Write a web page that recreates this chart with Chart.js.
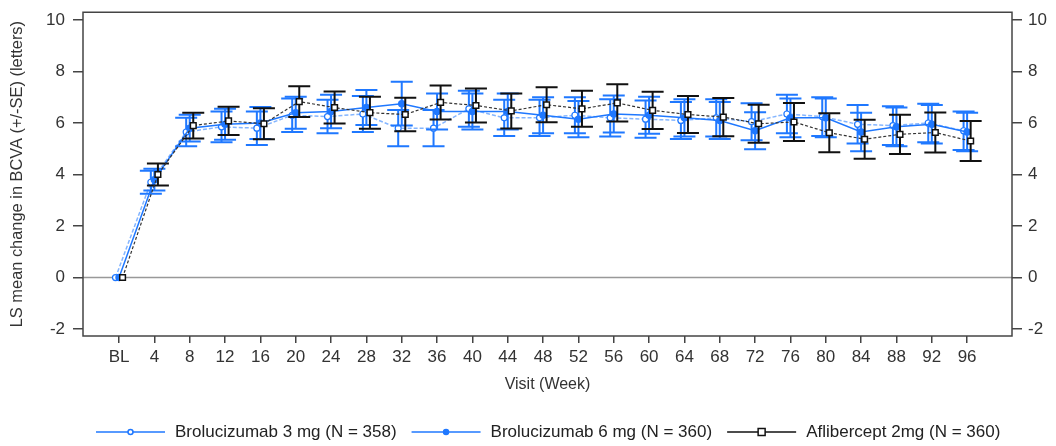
<!DOCTYPE html>
<html>
<head>
<meta charset="utf-8">
<script src="https://cdn.jsdelivr.net/npm/chart.js@4"></script>
<style>
body { margin: 0; background: #fff; }
#wrap { width: 1056px; height: 446px; }
</style>
</head>
<body>
<div id="wrap"><canvas id="ItemA"></canvas></div>
<script>
var weeks = ["BL", "4", "8", "12", "16", "20", "24", "28", "32", "36", "40", "44", "48",
             "52", "56", "60", "64", "68", "72", "76", "80", "84", "88", "92", "96"];
var yTicks = [-2, 0, 2, 4, 6, 8, 10];

var bro3Mean = [0, 3.7, 5.65, 5.85, 5.8, 6.3, 6.25, 6.35, 5.8, 5.8, 6.55, 6.2, 6.2,
                6.3, 6.2, 6.15, 6.1, 6.2, 6.05, 6.35, 6.25, 5.95, 5.9, 6.0, 5.7];
var bro3SE = [0, 0.45, 0.55, 0.6, 0.65, 0.65, 0.65, 0.7, 0.7, 0.7, 0.7, 0.7, 0.7,
              0.7, 0.72, 0.72, 0.72, 0.72, 0.72, 0.75, 0.75, 0.75, 0.75, 0.75, 0.75];
var bro6Mean = [0, 3.8, 5.8, 5.95, 6.0, 6.4, 6.45, 6.6, 6.75, 6.45, 6.45, 6.45, 6.3,
                6.15, 6.35, 6.3, 6.2, 6.1, 5.7, 6.2, 6.2, 5.65, 5.85, 5.95, 5.65];
var bro6SE = [0, 0.42, 0.52, 0.6, 0.62, 0.62, 0.65, 0.68, 0.85, 0.7, 0.7, 0.7, 0.7,
              0.7, 0.72, 0.72, 0.72, 0.72, 0.72, 0.75, 0.75, 0.75, 0.75, 0.75, 0.75];
var aflMean = [0, 4.0, 5.9, 6.08, 5.97, 6.83, 6.6, 6.4, 6.33, 6.8, 6.68, 6.47, 6.71,
               6.55, 6.78, 6.49, 6.33, 6.23, 5.97, 6.04, 5.62, 5.37, 5.56, 5.63, 5.3];
var aflSE = [0, 0.43, 0.5, 0.55, 0.6, 0.6, 0.62, 0.62, 0.65, 0.66, 0.66, 0.68, 0.68,
             0.7, 0.72, 0.72, 0.72, 0.74, 0.74, 0.74, 0.76, 0.76, 0.76, 0.78, 0.78];

var BLUE = '#1f78ff';
var FONT = "'Liberation Sans', Arial, sans-serif";

function pts(vals, shift) {
    return vals.map(function (v, i) { return {x: i + shift, y: v}; });
}

var aflGraph = {
    label: 'Aflibercept 2mg (N = 360)',
    data: pts(aflMean, 0.1),
    se: aflSE,
    borderColor: '#333',
    borderWidth: 1.2,
    borderDash: [3, 2],
    pointStyle: 'rect',
    pointRadius: 4,
    pointBorderWidth: 1.5,
    pointBorderColor: '#111',
    pointBackgroundColor: '#fff',
    barColor: '#111'
};
var bro6Graph = {
    label: 'Brolucizumab 6 mg (N = 360)',
    data: pts(bro6Mean, 0),
    se: bro6SE,
    borderColor: BLUE,
    borderWidth: 1.5,
    pointStyle: 'circle',
    pointRadius: 3,
    pointBorderColor: BLUE,
    pointBackgroundColor: BLUE,
    barColor: BLUE
};
var bro3Graph = {
    label: 'Brolucizumab 3 mg (N = 358)',
    data: pts(bro3Mean, -0.1),
    se: bro3SE,
    borderColor: 'rgba(31,120,255,0.55)',
    borderWidth: 1.5,
    borderDash: [4, 2],
    pointStyle: 'circle',
    pointRadius: 3,
    pointBorderWidth: 1.2,
    pointBorderColor: BLUE,
    pointBackgroundColor: '#fff',
    barColor: BLUE
};

// error bars drawn just before each dataset's line
var errorBars = {
    id: 'errorBars',
    beforeDatasetDraw: function (chart, args) {
        var ds = chart.data.datasets[args.index];
        var meta = args.meta;
        var ys = chart.scales.y;
        var ctx = chart.ctx;
        ctx.save();
        ctx.strokeStyle = ds.barColor;
        ctx.lineWidth = 2;
        meta.data.forEach(function (p, i) {
            var se = ds.se[i];
            if (!se) return;
            var v = ds.data[i].y;
            var top = ys.getPixelForValue(v + se);
            var bot = ys.getPixelForValue(v - se);
            ctx.beginPath();
            ctx.moveTo(p.x, top); ctx.lineTo(p.x, bot);
            ctx.moveTo(p.x - 11, top); ctx.lineTo(p.x + 11, top);
            ctx.moveTo(p.x - 11, bot); ctx.lineTo(p.x + 11, bot);
            ctx.stroke();
        });
        ctx.restore();
    }
};

var frame = {
    id: 'frame',
    beforeDatasetsDraw: function (chart) {
        var a = chart.chartArea, ctx = chart.ctx;
        var y0 = chart.scales.y.getPixelForValue(0);
        ctx.save();
        ctx.strokeStyle = '#999';
        ctx.lineWidth = 1.5;
        ctx.beginPath(); ctx.moveTo(a.left, y0); ctx.lineTo(a.right, y0); ctx.stroke();
        ctx.strokeStyle = '#444';
        ctx.lineWidth = 1.5;
        ctx.strokeRect(a.left, a.top, a.right - a.left, a.bottom - a.top);
        ctx.restore();
    }
};

var legendBox = {
    id: 'legendBox',
    afterDraw: function (chart) {
        var ctx = chart.ctx;
        var items = [bro3Graph, bro6Graph, aflGraph];
        var x = 96, y = 432;
        ctx.save();
        ctx.font = '17px ' + FONT;
        ctx.textBaseline = 'middle';
        items.forEach(function (d) {
            var lineCol = d === aflGraph ? '#111' : BLUE;
            ctx.strokeStyle = lineCol;
            ctx.lineWidth = 1.5;
            ctx.beginPath(); ctx.moveTo(x, y); ctx.lineTo(x + 69, y); ctx.stroke();
            var cx = x + 34.5;
            ctx.fillStyle = d.pointBackgroundColor;
            ctx.strokeStyle = d.pointBorderColor;
            ctx.beginPath();
            if (d.pointStyle === 'rect') { ctx.rect(cx - 3.5, y - 3.5, 7, 7); }
            else { ctx.arc(cx, y, 2.5, 0, Math.PI * 2); }
            ctx.fill(); ctx.stroke();
            ctx.fillStyle = '#222';
            ctx.fillText(d.label, x + 79, y);
            x += 79 + ctx.measureText(d.label).width + 15;
        });
        ctx.restore();
    }
};

function yAxis(pos, w, pad) {
    return {
        type: 'linear',
        position: pos,
        min: -2.27,
        max: 10.3,
        afterBuildTicks: function (s) { s.ticks = yTicks.map(function (v) { return {value: v}; }); },
        afterFit: function (s) { s.width = w; },
        grid: { drawOnChartArea: false, drawTicks: true, tickLength: 10, color: '#444', lineWidth: 1.5 },
        border: { display: false },
        ticks: { color: '#333', padding: pad, font: { family: FONT, size: 17, lineHeight: 0.5 } },
        title: pos === 'left' ? {
            display: true, text: 'LS mean change in BCVA (+/-SE) (letters)', color: '#333',
            font: { family: FONT, size: 16.4 }, padding: { top: 8, bottom: 0 }
        } : { display: false }
    };
}

var chartData = {
    type: 'line',
    data: { datasets: [aflGraph, bro6Graph, bro3Graph] },
    options: {
        responsive: true,
        maintainAspectRatio: false,
        animation: false,
        layout: { padding: { top: 9, bottom: 40, left: 0, right: 0 } },
        plugins: { legend: { display: false }, tooltip: { enabled: false } },
        scales: {
            x: {
                type: 'linear',
                min: -1.02,
                max: 25.27,
                afterBuildTicks: function (s) { s.ticks = weeks.map(function (w, i) { return {value: i}; }); },
                afterFit: function (s) { s.height = 70; },
                grid: { drawOnChartArea: false, drawTicks: true, tickLength: 7, color: '#444', lineWidth: 1.5 },
                border: { display: false },
                ticks: {
                    color: '#333', padding: 4, maxRotation: 0, autoSkip: false,
                    font: { family: FONT, size: 17 },
                    callback: function (v) { return weeks[v]; }
                },
                title: { display: true, text: 'Visit (Week)', color: '#333', font: { family: FONT, size: 16 }, padding: { top: 4, bottom: 12 } }
            },
            y: yAxis('left', 83, 8),
            y2: yAxis('right', 44, 6)
        }
    },
    plugins: [frame, errorBars, legendBox]
};

var myChart = new Chart(document.getElementById("ItemA").getContext("2d"), chartData);
</script>
</body>
</html>
